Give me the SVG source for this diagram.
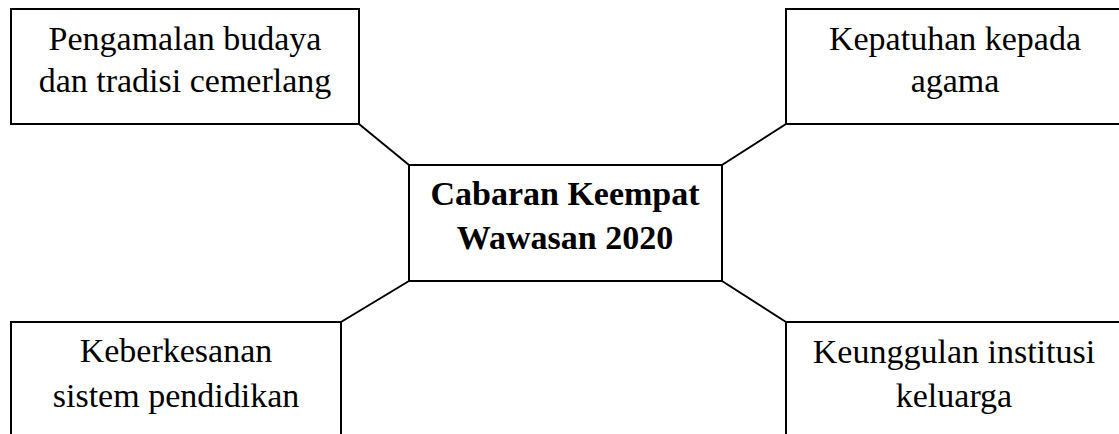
<svg xmlns="http://www.w3.org/2000/svg" width="1119" height="434" viewBox="0 0 1119 434">
<style>
.box{fill:#fff;stroke:#000;stroke-width:2}
.t{font-family:"Liberation Serif","Times New Roman",serif;font-size:34px;fill:#000;text-anchor:middle}
.b{font-weight:bold}
.c{stroke:#000;stroke-width:2;fill:none}
</style>
<rect width="1119" height="434" fill="#fff"/>
<g id="connectors">
<line class="c" x1="359" y1="124" x2="409" y2="165"/>
<line class="c" x1="786" y1="124" x2="722" y2="165"/>
<line class="c" x1="409" y1="281" x2="341" y2="322"/>
<line class="c" x1="722" y1="281" x2="786" y2="322"/>
</g>
<g id="n-center">
<rect class="box" x="409" y="165" width="313" height="116"/>
<text class="t b" x="565" y="205">Cabaran Keempat</text>
<text class="t b" x="565" y="249">Wawasan 2020</text>
</g>
<g id="n-topleft">
<rect class="box" x="11" y="9" width="348" height="115"/>
<text class="t" x="185" y="50">Pengamalan budaya</text>
<text class="t" x="185" y="92">dan tradisi cemerlang</text>
</g>
<g id="n-topright">
<rect class="box" x="786" y="9" width="340" height="115"/>
<text class="t" x="955" y="50">Kepatuhan kepada</text>
<text class="t" x="955" y="92">agama</text>
</g>
<g id="n-bottomleft">
<rect class="box" x="11" y="322" width="330" height="130"/>
<text class="t" x="176" y="362">Keberkesanan</text>
<text class="t" x="176" y="407">sistem pendidikan</text>
</g>
<g id="n-bottomright">
<rect class="box" x="786" y="322" width="340" height="130"/>
<text class="t" x="954" y="363">Keunggulan institusi</text>
<text class="t" x="954" y="407">keluarga</text>
</g>
</svg>
